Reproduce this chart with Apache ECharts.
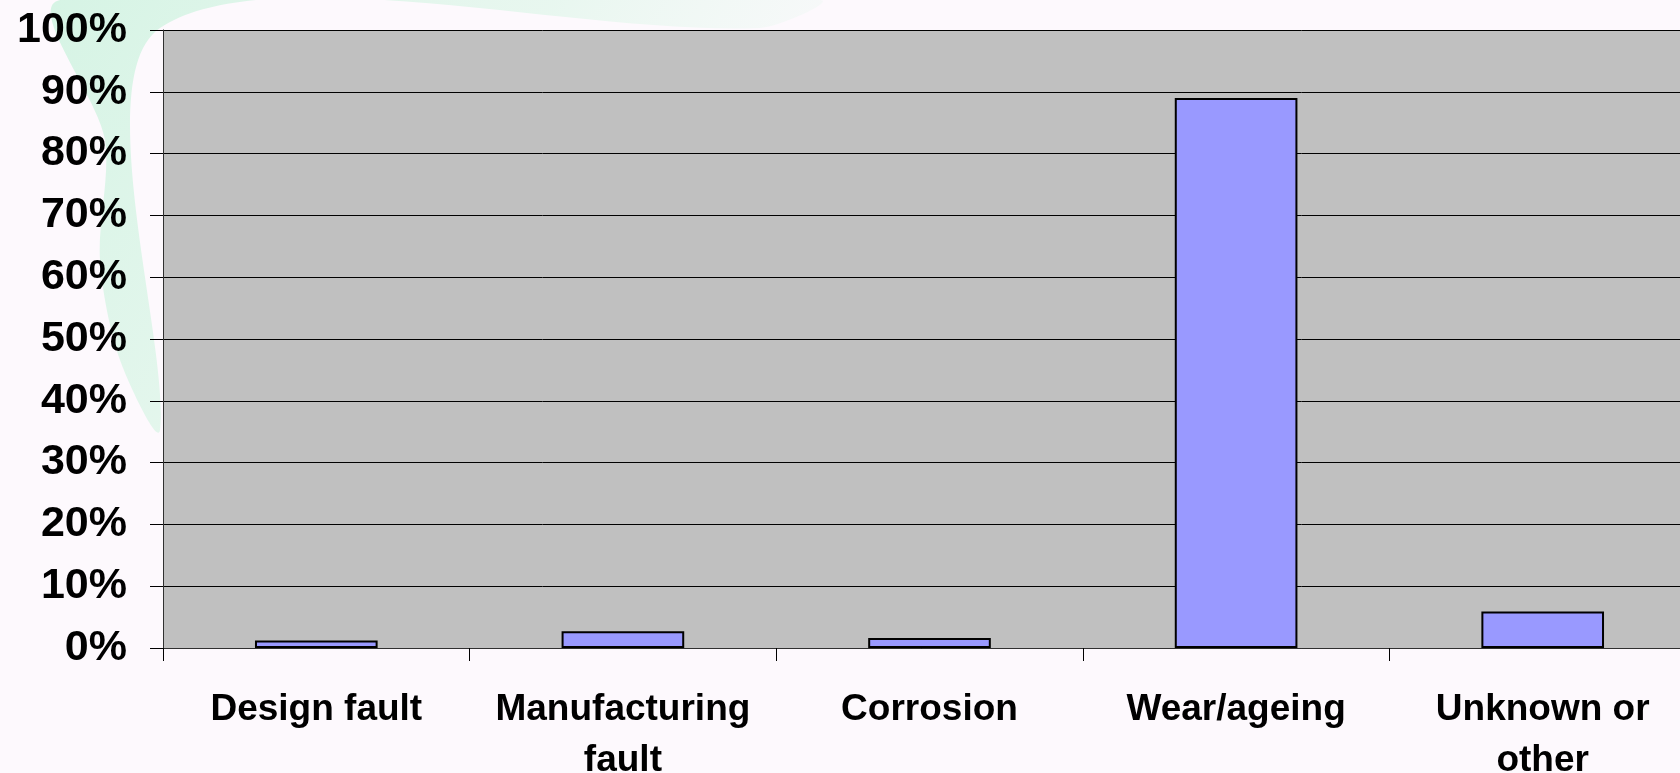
<!DOCTYPE html>
<html>
<head>
<meta charset="utf-8">
<title>Failure causes</title>
<script src="https://cdn.jsdelivr.net/npm/echarts@6/dist/echarts.min.js"></script>
<style>
  html, body { margin: 0; padding: 0; background: #fdf9fd; }
  #chart { width: 1680px; height: 773px; }
</style>
</head>
<body>
<div id="chart"></div>
<script>
// categories (line breaks as in the original slide)
var categories = ['Design fault', 'Manufacturing\nfault', 'Corrosion', 'Wear/ageing', 'Unknown or\nother'];
// share of failures, percent
var shares = [1.2, 2.7, 1.6, 89.0, 5.9];
// y axis ticks
var yMin = 0, yMax = 100, yStep = 10;

var chart = echarts.init(document.getElementById('chart'));

var option = {
    backgroundColor: '#fdf9fd',
    animation: false,
    textStyle: { fontFamily: '"Liberation Sans", Arial, sans-serif' },
    // soft green swoosh from the slide template
    graphic: [
        {
            type: 'polygon', z: -10, silent: true,
            shape: {
                points: [[60, 0], [820, 0], [760, 28], [160, 28], [160, 430],
                         [120, 360], [100, 260], [105, 140]],
                smooth: 0.3
            },
            style: {
                fill: new echarts.graphic.LinearGradient(0, 0, 1, 1, [
                    { offset: 0, color: 'rgba(200,242,220,0.75)' },
                    { offset: 0.5, color: 'rgba(215,245,228,0.55)' },
                    { offset: 1, color: 'rgba(240,250,245,0)' }
                ])
            }
        }
    ],
    grid: {
        left: 163,
        top: 30,
        right: -16,
        bottom: 125,
        containLabel: false,
        outerBoundsMode: 'none',
        show: true,
        backgroundColor: '#c0c0c0',
        borderWidth: 0
    },
    xAxis: {
        type: 'category',
        data: categories,
        axisLine: { show: true, lineStyle: { color: '#303030', width: 1 } },
        axisTick: { show: true, alignWithLabel: false, length: 13, lineStyle: { color: '#000' } },
        axisLabel: {
            interval: 0,
            margin: 36,
            color: '#000',
            fontSize: 37,
            fontWeight: 'bold',
            lineHeight: 51
        },
        splitLine: { show: false }
    },
    yAxis: {
        type: 'value',
        min: yMin,
        max: yMax,
        interval: yStep,
        axisLine: { show: true, lineStyle: { color: '#303030', width: 1 } },
        axisTick: { show: true, length: 13, lineStyle: { color: '#000' } },
        axisLabel: {
            margin: 36,
            color: '#000',
            fontSize: 43,
            fontWeight: 'bold',
            formatter: '{value}%'
        },
        splitLine: { show: true, lineStyle: { color: '#000', width: 1 } }
    },
    series: [
        {
            type: 'bar',
            data: shares,
            barWidth: '40%',
            itemStyle: {
                color: '#9999ff',
                borderColor: '#000',
                borderWidth: 2
            }
        }
    ]
};

chart.setOption(option);
</script>
</body>
</html>
